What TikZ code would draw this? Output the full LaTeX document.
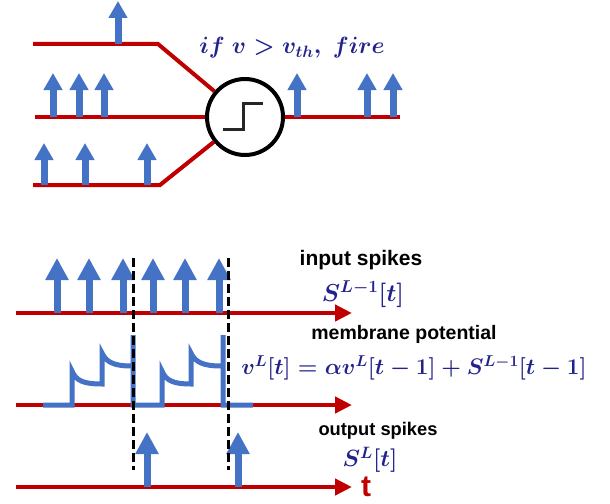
\RequirePackage{fix-cm}
\documentclass[tikz,border=0pt]{standalone}
\usepackage{amsmath}
\usepackage{fontspec}
\setsansfont{Liberation Sans}
\usetikzlibrary{arrows.meta}
\definecolor{axred}{RGB}{192,0,0}
\definecolor{spikeblue}{RGB}{68,114,196}
\definecolor{mathblue}{RGB}{34,34,140}
\begin{document}
\begin{tikzpicture}[x=1pt,y=-1pt,
  redline/.style={draw=axred, line width=4pt},
  axisline/.style={draw=axred, line width=4.5pt, -{Triangle[length=17pt,width=16pt]}},
  spike/.style={draw=spikeblue, line width=7pt, -{Triangle[length=22pt,width=22pt]}},
  smallspike/.style={draw=spikeblue, line width=7pt, -{Triangle[length=17pt,width=18pt]}},
  potential/.style={draw=spikeblue, line width=5pt},
  firing/.style={draw=black, line width=3pt, dash pattern=on 9pt off 4pt},
  labeltext/.style={font=\sffamily\bfseries, inner sep=0pt},
  mathtext/.style={text=mathblue, inner sep=0pt},
]
\useasboundingbox (0,0) rectangle (610,503);

% ---------- neuron ----------
\node[circle, draw=black, line width=4pt, minimum size=76pt, inner sep=0pt] (neuron) at (245,117) {};
\draw[draw=black!85, line width=3pt] (223,129) -- (243,129) -- (243,103) -- (263,103);

\coordinate (in1) at (33,44);
\coordinate (bend1) at (158,44);
\coordinate (in2) at (35,117);
\coordinate (in3) at (33,185);
\coordinate (bend3) at (160,185);
\coordinate (out) at (400,117);

\draw[redline] (in1) -- (bend1) -- (neuron);
\draw[redline] (in2) -- (neuron);
\draw[redline] (in3) -- (bend3) -- (neuron);
\draw[redline] (neuron) -- (out);

\foreach \x/\yb/\yt in {118/44/1, 53/117/73, 79/117/73, 104/117/73, 44/185/143, 85/185/143, 147/185/143, 297/117/73, 367/117/73, 393/117/73}
  \draw[smallspike] (\x,\yb) -- (\x,\yt);

\node[mathtext, font=\fontsize{23.5}{28}\selectfont\boldmath] (rule) at (292,48) {$if\ v > v_{th},\ fire$};

% ---------- time diagrams ----------
\coordinate (a1s) at (16,313); \coordinate (a1e) at (352,313);
\coordinate (a2s) at (16,405); \coordinate (a2e) at (352,405);
\coordinate (a3s) at (16,487); \coordinate (a3e) at (352,487);
\draw[axisline] (a1s) -- (a1e);
\draw[axisline] (a2s) -- (a2e);
\draw[axisline] (a3s) -- (a3e);

\foreach \x in {57,89,123,153,185,219}
  \draw[spike] (\x,313) -- (\x,258);
\foreach \x in {147,238}
  \draw[spike] (\x,487) -- (\x,432);

\draw[potential] (43,405) -- (72,405) -- (72,371)
  .. controls (76,381) and (84,384) .. (102,384) -- (102,353)
  .. controls (106,362) and (114,366) .. (131,366) -- (133,366) -- (133,335) -- (133,405)
  -- (162,405) -- (162,371)
  .. controls (166,381) and (174,384) .. (191,384) -- (191,353)
  .. controls (195,362) and (203,366) .. (221,366) -- (223,366) -- (223,335) -- (223,405)
  -- (253,405);

\draw[firing] (133,258) -- (133,470);
\draw[firing] (228,258) -- (228,470);

\node[labeltext, font=\sffamily\bfseries\fontsize{21}{24}\selectfont] (inlbl) at (361,260) {input spikes};
\node[mathtext, font=\fontsize{24.5}{28}\selectfont\boldmath] (inmath) at (363,294) {$S^{L-1}[t]$};
\node[labeltext, font=\sffamily\bfseries\fontsize{19.5}{22}\selectfont] (memlbl) at (404,334) {membrane potential};
\node[mathtext, font=\fontsize{22.5}{27}\selectfont\boldmath] (memeq) at (414,368) {$v^L[t] = \alpha v^L[t-1] + S^{L-1}[t-1]$};
\node[labeltext, font=\sffamily\bfseries\fontsize{18.3}{21}\selectfont] (outlbl) at (378,431) {output spikes};
\node[mathtext, font=\fontsize{23.5}{28}\selectfont\boldmath] (outmath) at (370,460) {$S^L[t]$};
\node[text=axred, font=\sffamily\bfseries\fontsize{30}{30}\selectfont, inner sep=0pt, anchor=base] (tlbl) at (366,496) {t};
\end{tikzpicture}
\end{document}
